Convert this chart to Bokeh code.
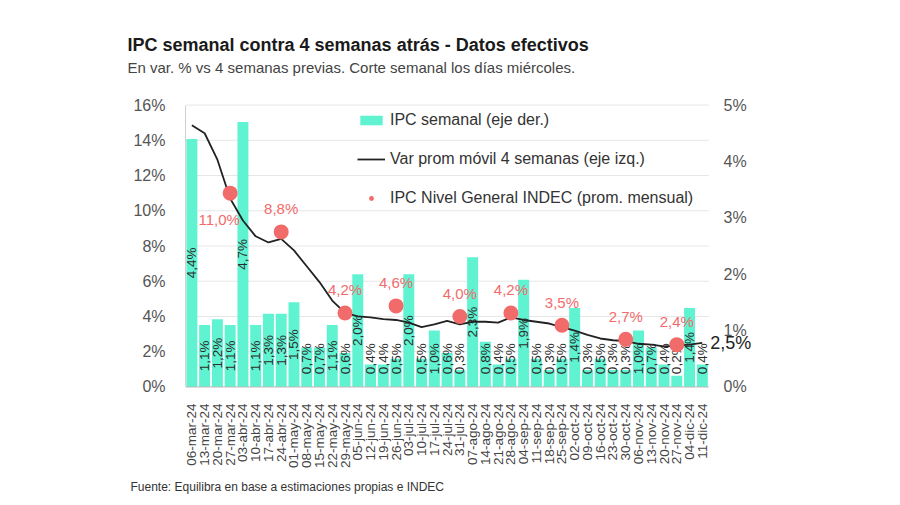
import numpy as np
from bokeh.plotting import figure
from bokeh.models import (ColumnDataSource, Range1d, FixedTicker,
                          Legend, LegendItem, Title)
from bokeh.core.properties import value
from bokeh.embed import file_html
from bokeh.resources import INLINE

# ---------------- data ----------------
dates = ["06-mar-24", "13-mar-24", "20-mar-24", "27-mar-24",
         "03-abr-24", "10-abr-24", "17-abr-24", "24-abr-24",
         "01-may-24", "08-may-24", "15-may-24", "22-may-24", "29-may-24",
         "05-jun-24", "12-jun-24", "19-jun-24", "26-jun-24",
         "03-jul-24", "10-jul-24", "17-jul-24", "24-jul-24", "31-jul-24",
         "07-ago-24", "14-ago-24", "21-ago-24", "28-ago-24",
         "04-sep-24", "11-sep-24", "18-sep-24", "25-sep-24",
         "02-oct-24", "09-oct-24", "16-oct-24", "23-oct-24", "30-oct-24",
         "06-nov-24", "13-nov-24", "20-nov-24", "27-nov-24",
         "04-dic-24", "11-dic-24"]

weekly_ipc = [4.4, 1.1, 1.2, 1.1,
              4.7, 1.1, 1.3, 1.3,
              1.5, 0.7, 0.7, 1.1, 0.6,
              2.0, 0.4, 0.4, 0.5,
              2.0, 0.5, 1.0, 0.6, 0.3,
              2.3, 0.8, 0.4, 0.5,
              1.9, 0.5, 0.3, 0.5,
              1.4, 0.3, 0.5, 0.3, 0.3,
              1.0, 0.7, 0.4, 0.2,
              1.4, 0.4]

moving_avg = [14.85, 14.4, 12.9, 10.7,
              9.45, 8.55, 8.2, 8.4,
              7.75, 6.85, 5.95, 4.9, 4.2,
              4.0, 3.95, 3.85, 3.8,
              3.65, 3.4, 3.55, 3.75, 3.55,
              3.7, 3.7, 3.65, 3.95,
              3.8, 3.7, 3.6, 3.4,
              3.2, 2.95, 2.75, 2.65, 2.6,
              2.45, 2.4, 2.3, 2.35,
              2.4, 2.5]

indec_dates = ["27-mar-24", "24-abr-24", "29-may-24", "26-jun-24", "31-jul-24",
               "28-ago-24", "25-sep-24", "30-oct-24", "27-nov-24"]
indec_values = [11.0, 8.8, 4.2, 4.6, 4.0, 4.2, 3.5, 2.7, 2.4]

left_ticks = [0, 2, 4, 6, 8, 10, 12, 14, 16]
right_ticks = [0, 1, 2, 3, 4, 5]

title_text = "IPC semanal contra 4 semanas atrás - Datos efectivos"
subtitle_text = "En var. % vs 4 semanas previas. Corte semanal los días miércoles."
source_text = "Fuente: Equilibra en base a estimaciones propias e INDEC"

# ---------------- style ----------------
FONT = "Liberation Sans"
BAR_COLOR = "#5FF3D1"
DOT_COLOR = "#F26B6B"
LINE_COLOR = "#222222"
GRID_COLOR = "#e6e6e6"
AXIS_TEXT = "#555555"


def pct(v):
    return f"{v:.1f}".replace(".", ",") + "%"


n = len(dates)
idx = list(range(n))
LEFT_MAX = left_ticks[-1]
RIGHT_MAX = right_ticks[-1]
RATIO = LEFT_MAX / RIGHT_MAX
PAD = 0.6  # extra room (left-axis units) so edge labels are not clipped

p = figure(width=884, height=505,
           x_range=Range1d(-0.5, 44.56),
           y_range=Range1d(-PAD, LEFT_MAX + PAD),
           output_backend="svg", toolbar_location=None,
           min_border_left=185, min_border_right=124,
           min_border_top=94, min_border_bottom=108)
p.extra_y_ranges = {"right": Range1d(-PAD / RATIO, (LEFT_MAX + PAD) / RATIO)}
p.outline_line_color = None
p.background_fill_color = "white"
p.border_fill_color = "white"
p.title.text = ""

# left axis
lax = p.yaxis[0]
lax.ticker = FixedTicker(ticks=left_ticks)
lax.bounds = (0, LEFT_MAX)
lax.major_label_overrides = {t: f"{t}%" for t in left_ticks}
lax.major_tick_line_color = None
lax.minor_tick_line_color = None
lax.axis_line_color = "#d0d0d0"
lax.major_label_text_font = FONT
lax.major_label_text_font_size = "16px"
lax.major_label_text_color = AXIS_TEXT
lax.major_label_standoff = 14

# x axis (category labels at bar positions)
xax = p.xaxis[0]
xax.ticker = FixedTicker(ticks=idx)
xax.major_label_overrides = {i: d for i, d in zip(idx, dates)}
xax.major_label_orientation = np.pi / 2
xax.major_label_text_font = FONT
xax.major_label_text_font_size = "13.5px"
xax.major_label_text_color = "#444444"
xax.major_tick_line_color = None
xax.minor_tick_line_color = None
xax.axis_line_color = None
xax.major_label_standoff = 0

p.xgrid.grid_line_color = None
p.ygrid.grid_line_color = None

# horizontal grid lines limited to the bar area
p.segment(x0=[-0.5] * len(left_ticks), x1=[n - 0.5] * len(left_ticks),
          y0=left_ticks, y1=left_ticks, line_color=GRID_COLOR, line_width=1)

# right axis (secondary scale for weekly bars), drawn as text beside the bars
p.text(x=[n + 0.66] * len(right_ticks), y=right_ticks,
       text=[f"{t}%" for t in right_ticks], y_range_name="right",
       text_align="left", text_baseline="middle",
       text_font=value(FONT), text_font_size="16px", text_color=AXIS_TEXT)

# bars
bar_src = ColumnDataSource(dict(
    x=idx, top=weekly_ipc,
    label=[pct(v) for v in weekly_ipc],
    ly=[max(v / 2, 0.5) for v in weekly_ipc],
))
r_bar = p.vbar(x="x", top="top", width=0.86, source=bar_src, y_range_name="right",
               fill_color=BAR_COLOR, line_color=None)

# baseline (x axis line)
p.segment(x0=[-0.5], x1=[n - 0.5], y0=[0], y1=[0], line_color="#bdbdbd", line_width=1)

p.text(x="x", y="ly", text="label", source=bar_src, y_range_name="right",
       angle=np.pi / 2, text_align="center", text_baseline="middle",
       text_font=value(FONT), text_font_size="13.5px", text_color="#2d2d2d")

# moving average line
r_line = p.line(x=idx, y=moving_avg, line_color=LINE_COLOR, line_width=1.8)

# last value label
p.text(x=[n - 1], y=[moving_avg[-1]], text=[pct(moving_avg[-1])], x_offset=8,
       text_align="left", text_baseline="middle",
       text_font=value(FONT), text_font_size="18px", text_color="#222222")

# INDEC dots
dot_src = ColumnDataSource(dict(
    x=[dates.index(d) for d in indec_dates], y=indec_values,
    label=[pct(v) for v in indec_values],
    dx=[-11] + [0] * (len(indec_values) - 1),
    dy=[26] + [-23] * (len(indec_values) - 1),
))
r_dot = p.scatter(x="x", y="y", source=dot_src, size=15,
                  fill_color=DOT_COLOR, line_color=None)
p.text(x="x", y="y", text="label", source=dot_src, x_offset="dx", y_offset="dy",
       text_align="center", text_baseline="middle",
       text_font=value(FONT), text_font_size="15px", text_color=DOT_COLOR)

# legend
legend = Legend(items=[
    LegendItem(label="IPC semanal (eje der.)", renderers=[r_bar]),
    LegendItem(label="Var prom móvil 4 semanas (eje izq.)", renderers=[r_line]),
    LegendItem(label="IPC Nivel General INDEC (prom. mensual)", renderers=[r_dot]),
], location=(172, 190), orientation="vertical")
legend.background_fill_alpha = 0
legend.border_line_alpha = 0
legend.padding = 0
legend.margin = 0
legend.spacing = 21
legend.glyph_width = 28
legend.glyph_height = 12
legend.label_height = 12
legend.label_standoff = 5
legend.label_text_font = FONT
legend.label_text_font_size = "16px"
legend.label_text_color = "#333333"
p.add_layout(legend)

# titles (stacked outward from the frame: spacer, subtitle, title) and source note
p.add_layout(Title(text=" ", align="left", standoff=14,
                   text_font=FONT, text_font_size="1px"), "above")
p.add_layout(Title(text=subtitle_text, align="left", offset=-58, standoff=4,
                   text_font=FONT, text_font_size="15px", text_font_style="normal",
                   text_color="#444444"), "above")
p.add_layout(Title(text=title_text, align="left", offset=-58, standoff=0,
                   text_font=FONT, text_font_size="18px", text_font_style="bold",
                   text_color="#1a1a1a"), "above")
p.add_layout(Title(text=source_text, align="left", offset=-55, standoff=12,
                   text_font=FONT, text_font_size="12px", text_font_style="normal",
                   text_color="#333333"), "below")

open("out.html", "w").write(file_html(p, INLINE))
